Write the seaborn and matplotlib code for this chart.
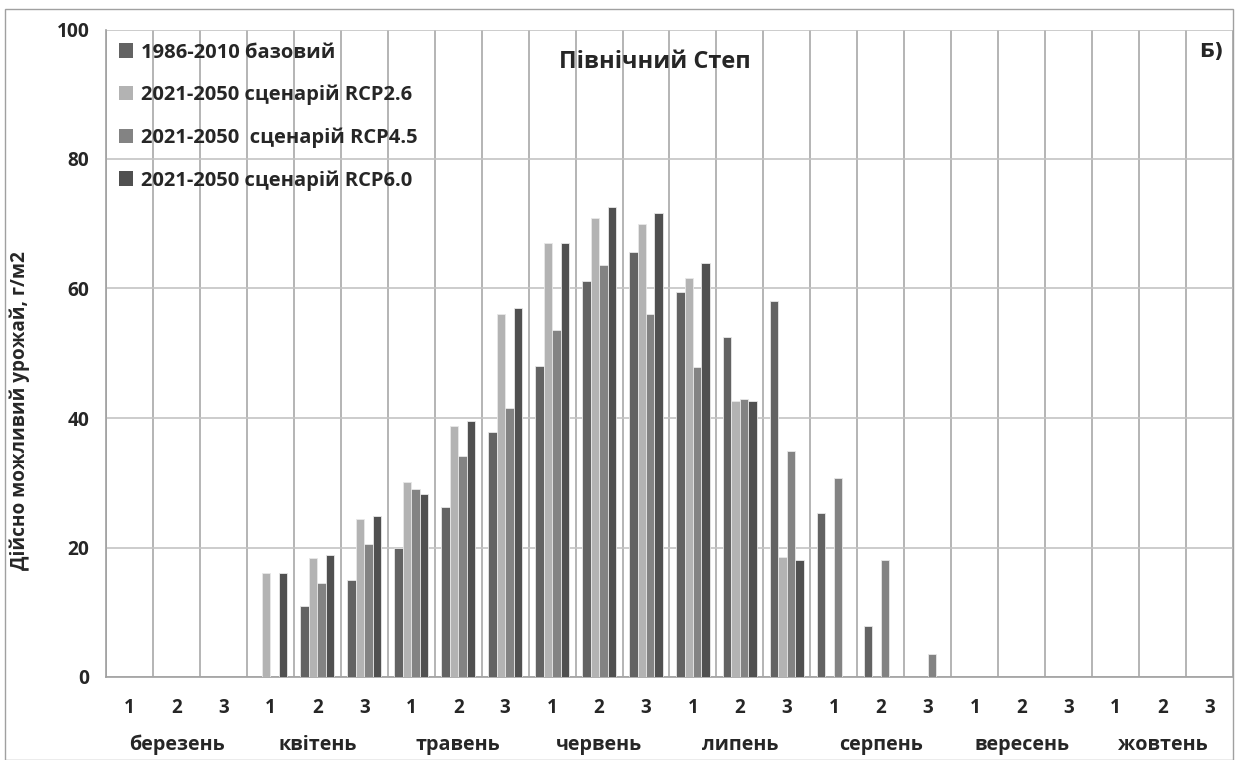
import numpy as np
import pandas as pd
import matplotlib
matplotlib.use("Agg")
import matplotlib.pyplot as plt
import seaborn as sns
from matplotlib.patches import Rectangle, Patch

months = ["березень", "квітень", "травень", "червень", "липень", "серпень", "вересень", "жовтень"]
decades = ["1", "2", "3"]
series_names = ["1986-2010 базовий", "2021-2050 сценарій RCP2.6",
                "2021-2050  сценарій RCP4.5", "2021-2050 сценарій RCP6.0"]

base_1986_2010 = [0, 0, 0, 0, 11.0, 15.0, 20.0, 26.2, 37.9, 48.1, 61.1, 65.6,
                  59.4, 52.5, 58.1, 25.3, 7.9, 0, 0, 0, 0, 0, 0, 0]
rcp26 = [0, 0, 0, 16.0, 18.4, 24.4, 30.1, 38.8, 56.0, 67.0, 70.9, 69.9,
         61.6, 42.6, 18.6, 0, 0, 0, 0, 0, 0, 0, 0, 0]
rcp45 = [0, 0, 0, 0, 14.5, 20.5, 29.0, 34.2, 41.6, 53.6, 63.7, 56.0,
         47.9, 42.9, 34.9, 30.8, 18.1, 3.6, 0, 0, 0, 0, 0, 0]
rcp60 = [0, 0, 0, 16.0, 18.9, 24.8, 28.3, 39.6, 57.0, 67.0, 72.6, 71.7,
         64.0, 42.6, 18.1, 0, 0, 0, 0, 0, 0, 0, 0, 0]

colors = ["#636363", "#b3b3b3", "#838383", "#505050"]

sns.set_theme(style="white")
plt.rcParams['font.family'] = ['Open Sans', 'DejaVu Sans']
plt.rcParams['font.weight'] = 'bold'

categories = [f"{m}-{d}" for m in months for d in decades]
rows = []
for name, vals in zip(series_names, [base_1986_2010, rcp26, rcp45, rcp60]):
    for c, v in zip(categories, vals):
        rows.append({"cat": c, "series": name, "value": v if v > 0 else np.nan})
df = pd.DataFrame(rows)

fig = plt.figure(figsize=(12.35, 7.6), dpi=100)
ax = fig.add_axes([106/1235, 1 - 677/760, (1233 - 106)/1235, (677 - 29.5)/760])

sns.barplot(data=df, x="cat", y="value", hue="series", order=categories,
            hue_order=series_names, palette=colors, width=0.72, gap=0,
            edgecolor="#e8e8e8", linewidth=0.6, ax=ax, legend=False, zorder=3)

ax.set_xlim(-0.5, len(categories) - 0.5)
ax.set_ylim(0, 100)
ax.set_yticks([0, 20, 40, 60, 80, 100])
ax.set_yticklabels(["0", "20", "40", "60", "80", "100"], fontsize=13.8, fontweight="bold")
ax.set_xticks(range(len(categories)))
ax.set_xticklabels(decades * len(months), fontsize=13.5, fontweight="bold")
ax.set_xticks(np.arange(-0.5, len(categories), 1.0), minor=True)
ax.tick_params(axis="x", which="major", length=0, pad=15)
ax.tick_params(axis="x", which="minor", length=6, color="#a0a0a0", width=1)
ax.tick_params(axis="y", which="major", length=4, color="#a0a0a0", pad=8)
ax.set_xlabel("")
ax.set_ylabel("")

ax.grid(False)
ax.yaxis.grid(True, color="#c4c4c4", linewidth=1.2, zorder=0)
ax.xaxis.grid(True, which="minor", color="#a8a8a8", linewidth=1.2, zorder=0)
ax.set_axisbelow(True)
for s in ["top", "right"]:
    ax.spines[s].set_visible(False)
for s in ["left", "bottom"]:
    ax.spines[s].set_color("#a0a0a0")
    ax.spines[s].set_linewidth(1.2)

# month labels
for i, m in enumerate(months):
    ax.text(3 * i + 1, -10.5, m, ha="center", va="center", fontsize=14.2,
            fontweight="bold", transform=ax.transData, clip_on=False)

handles = [Patch(facecolor=c, edgecolor="none") for c in colors]
ax.legend(handles, series_names, loc="upper left", bbox_to_anchor=(0.0, 1.0),
          frameon=False, labelspacing=1.1, handlelength=0.7,
          handleheight=0.7, handletextpad=0.4, borderaxespad=0.25,
          prop={"weight": "bold", "size": 14.5})

ax.text(0.487, 0.95, "Північний Степ", transform=ax.transAxes, ha="center",
        va="center", fontsize=17, fontweight="bold")
ax.text(0.981, 0.966, "Б)", transform=ax.transAxes, ha="center", va="center",
        fontsize=14.5, fontweight="bold", family=["DejaVu Sans"])

fig.text(20/1235, 1 - 411/760, "Дійсно можливий урожай, г/м2", rotation=90,
         ha="center", va="center", fontsize=13.7, fontweight="bold")

fig.patches.append(Rectangle((5/1235, 0), (1233 - 5)/1235, 1 - 9/760,
                             transform=fig.transFigure, fill=False,
                             edgecolor="#a0a0a0", linewidth=1.0))

fig.savefig("out.png", dpi=100)
